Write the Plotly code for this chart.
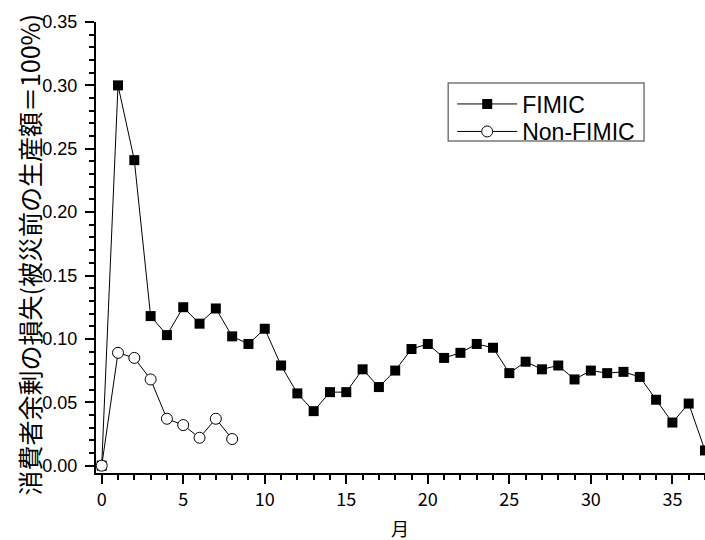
import plotly.graph_objects as go

months_fimic = list(range(0, 38))
fimic = [0.0, 0.300, 0.241, 0.118, 0.103, 0.125, 0.112, 0.124, 0.102, 0.096,
         0.108, 0.079, 0.057, 0.043, 0.058, 0.058, 0.076, 0.062, 0.075, 0.092,
         0.096, 0.085, 0.089, 0.096, 0.093, 0.073, 0.082, 0.076, 0.079, 0.068,
         0.075, 0.073, 0.074, 0.070, 0.052, 0.034, 0.049, 0.012]
months_non = list(range(0, 9))
non_fimic = [0.0, 0.089, 0.085, 0.068, 0.037, 0.032, 0.022, 0.037, 0.021]

x_ticks = [0, 5, 10, 15, 20, 25, 30, 35]
y_ticks = [0.00, 0.05, 0.10, 0.15, 0.20, 0.25, 0.30, 0.35]
y_tick_text = ["0.00", "0.05", "0.10", "0.15", "0.20", "0.25", "0.30", "0.35"]

L, R, T, B = 95.5, 0, 22, 67
PW = 705 - L - R
PH = 540 - T - B


def px_x(p):
    return (p - L) / PW


def px_y(p):
    return 1 - (p - T) / PH


fig = go.Figure()
fig.add_trace(go.Scatter(
    x=months_fimic, y=fimic, name="FIMIC", mode="lines+markers",
    line=dict(color="black", width=1),
    marker=dict(symbol="square", size=10, color="black", line=dict(width=0)),
    legend="legend",
))
fig.add_trace(go.Scatter(
    x=months_non, y=non_fimic, name="Non-FIMIC", mode="lines+markers",
    line=dict(color="black", width=1),
    marker=dict(symbol="circle", size=11, color="white", line=dict(color="black", width=1)),
    legend="legend2",
))

legend_common = dict(
    xanchor="left", yanchor="top",
    borderwidth=0, bgcolor="rgba(0,0,0,0)",
    font=dict(family="Liberation Sans", size=23, color="black"),
    tracegroupgap=0, itemwidth=60,
)

fig.update_layout(
    width=705, height=540,
    margin=dict(l=L, r=R, t=T, b=B, autoexpand=False),
    paper_bgcolor="white", plot_bgcolor="white",
    showlegend=True,
    legend=dict(x=px_x(452), y=px_y(82.5), **legend_common),
    legend2=dict(x=px_x(452), y=px_y(110), **legend_common),
    shapes=[dict(
        type="rect", xref="paper", yref="paper", layer="below",
        x0=px_x(448), x1=px_x(644), y0=px_y(141), y1=px_y(83),
        line=dict(color="#777777", width=1.5), fillcolor="white",
    )],
    xaxis=dict(
        range=[-0.35, 37], showline=True, linecolor="black", linewidth=2,
        showgrid=False, zeroline=False, automargin=False,
        tickmode="array", tickvals=x_ticks,
        ticks="outside", ticklen=9, tickwidth=1.5, tickcolor="black",
        minor=dict(dtick=1, tick0=0, ticks="outside", ticklen=5, tickwidth=1.5, tickcolor="black", showgrid=False),
        tickfont=dict(family="Noto Sans CJK JP", size=18, color="black"),
    ),
    yaxis=dict(
        range=[-0.0058, 0.35], showline=True, linecolor="black", linewidth=2,
        showgrid=False, zeroline=False, automargin=False,
        tickmode="array", tickvals=y_ticks, ticktext=y_tick_text,
        ticks="outside", ticklen=9, tickwidth=1.5, tickcolor="black",
        minor=dict(dtick=0.01, tick0=0, ticks="outside", ticklen=5, tickwidth=1.5, tickcolor="black", showgrid=False),
        tickfont=dict(family="Liberation Sans", size=18, color="black"),
        ticklabelstandoff=4,
    ),
    annotations=[
        dict(
            text="消費者余剰の損失(被災前の生産額＝100%)",
            xref="paper", yref="paper", x=px_x(28), y=px_y(255),
            xanchor="center", yanchor="middle", textangle=-90, showarrow=False,
            font=dict(family="Noto Sans CJK JP", size=25, color="black"),
        ),
        dict(
            text="月",
            xref="paper", yref="paper", x=px_x(400), y=px_y(528),
            xanchor="center", yanchor="middle", showarrow=False,
            font=dict(family="Noto Sans CJK JP", size=18, color="black"),
        ),
    ],
)

fig.write_html(
    "out.html",
    config={"displayModeBar": False},
    post_script="document.body.style.margin='0';document.body.style.padding='0';",
)
